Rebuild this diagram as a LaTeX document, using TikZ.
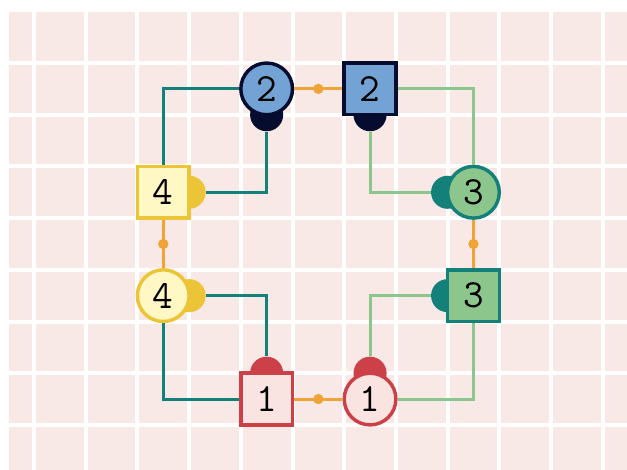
\documentclass[tikz,border=0pt]{standalone}
\usepackage{tikz}
\definecolor{bgpink}{RGB}{249,233,230}
\definecolor{myteal}{RGB}{20,128,122}
\definecolor{mygreen}{RGB}{141,198,140}
\definecolor{mynavy}{RGB}{5,12,45}
\definecolor{myblue}{RGB}{114,163,212}
\definecolor{myyellow}{RGB}{236,196,56}
\definecolor{lightyellow}{RGB}{255,248,196}
\definecolor{myred}{RGB}{204,64,72}
\definecolor{lightred}{RGB}{249,228,226}
\definecolor{myorange}{RGB}{240,164,56}

\begin{document}
\begin{tikzpicture}[x=1cm,y=-1cm]
		\tikzset{roundnode/.style={draw,circle,minimum size=1cm,inner sep=0pt,line width=1.9pt,font=\ttfamily\fontsize{22}{22}\selectfont}}
		\tikzset{squarenode/.style={draw,rectangle,minimum size=1cm,inner sep=0pt,line width=1.9pt,font=\ttfamily\fontsize{22}{22}\selectfont}}
		\tikzset{bump/.style={circle,minimum size=0.64cm,inner sep=0pt}}
		\tikzset{wire/.style={line width=1.7pt}}
		\tikzset{link/.style={line width=1.7pt,myorange}}
		\tikzset{dot/.style={circle,fill=myorange,minimum size=0.2cm,inner sep=0pt}}
		
		% background grid
		\useasboundingbox (-0.658,-1.219) rectangle (11.470,7.872);
		\fill[bgpink] (-0.484,-0.986) rectangle (11.470,7.872);
		\foreach \x in {0,...,11} \draw[white,line width=2.2pt] (\x,-0.986) -- (\x,7.872);
		\foreach \y in {0,...,7} \draw[white,line width=2.2pt] (-0.484,\y) -- (11.470,\y);
		
		\node(b_c2) at (4.5,1) [bump,fill=mynavy] {};
		\node(b_s2) at (6.5,1) [bump,fill=mynavy] {};
		\node(b_s4) at (3,2.5) [bump,fill=myyellow] {};
		\node(b_c3) at (8,2.5) [bump,fill=myteal] {};
		\node(b_c4) at (3,4.5) [bump,fill=myyellow] {};
		\node(b_s3) at (8,4.5) [bump,fill=myteal] {};
		\node(b_s1) at (4.5,6) [bump,fill=myred] {};
		\node(b_c1) at (6.5,6) [bump,fill=myred] {};
		
		\node(c2) at (4.5,0.5) [roundnode,draw=mynavy,fill=myblue] {2};
		\node(s2) at (6.5,0.5) [squarenode,draw=mynavy,fill=myblue] {2};
		\node(s4) at (2.5,2.5) [squarenode,draw=myyellow,fill=lightyellow] {4};
		\node(c3) at (8.5,2.5) [roundnode,draw=myteal,fill=mygreen] {3};
		\node(c4) at (2.5,4.5) [roundnode,draw=myyellow,fill=lightyellow] {4};
		\node(s3) at (8.5,4.5) [squarenode,draw=myteal,fill=mygreen] {3};
		\node(s1) at (4.5,6.5) [squarenode,draw=myred,fill=lightred] {1};
		\node(c1) at (6.5,6.5) [roundnode,draw=myred,fill=lightred] {1};
		
		\draw[wire,myteal] (c2) -| (s4);
		\draw[wire,myteal] (b_c2) |- (b_s4);
		\draw[wire,myteal] (b_c4) -| (b_s1);
		\draw[wire,myteal] (c4) |- (s1);
		
		\draw[wire,mygreen] (s2) -| (c3);
		\draw[wire,mygreen] (b_s2) |- (b_c3);
		\draw[wire,mygreen] (b_s3) -| (b_c1);
		\draw[wire,mygreen] (s3) |- (c1);
		
		\draw[link] (c2) -- node[dot] (d_top) {} (s2);
		\draw[link] (s4) -- node[dot] (d_left) {} (c4);
		\draw[link] (c3) -- node[dot] (d_right) {} (s3);
		\draw[link] (s1) -- node[dot] (d_bottom) {} (c1);
\end{tikzpicture}
\end{document}
